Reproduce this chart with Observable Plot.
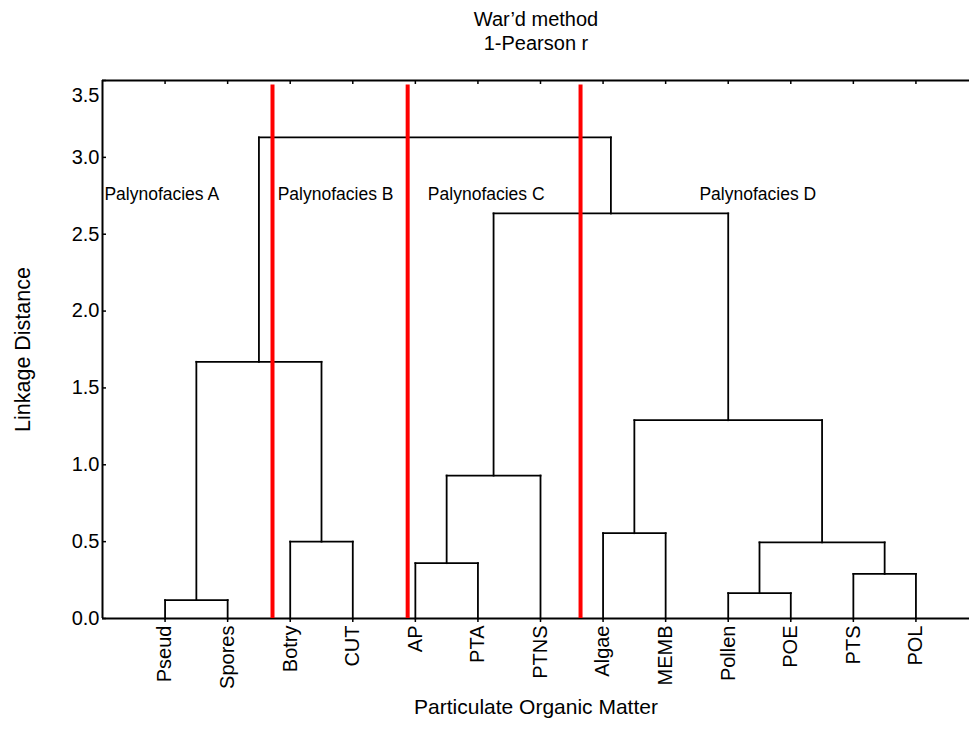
<!DOCTYPE html>
<html>
<head>
<meta charset="utf-8">
<script src="https://cdn.jsdelivr.net/npm/d3@7"></script>
<script src="https://cdn.jsdelivr.net/npm/@observablehq/plot@0.6"></script>
<style>
  body { margin: 0; background: #fff; }
  svg { font-family: "Liberation Sans", Arial, sans-serif; }
</style>
</head>
<body>
<div id="chart"></div>
<script>
// ---- data ----
const titleLines = ["War\u2019d method", "1-Pearson r"];
const xLabel = "Particulate Organic Matter";
const yLabel = "Linkage Distance";
const leaves = ["Pseud","Spores","Botry","CUT","AP","PTA","PTNS","Algae","MEMB","Pollen","POE","PTS","POL"];
// merges: [childA, childB, linkage distance]; leaves are ids 0..12, merges get ids 13..
const merges = [
  [0, 1, 0.12],
  [2, 3, 0.50],
  [4, 5, 0.36],
  [9, 10, 0.165],
  [11, 12, 0.29],
  [15, 6, 0.93],
  [7, 8, 0.555],
  [16, 17, 0.495],
  [19, 20, 1.29],
  [13, 14, 1.67],
  [18, 21, 2.635],
  [22, 23, 3.13]
];
const cutPositions = [2.717, 4.877, 7.64];   // red separators, in leaf-slot units
const cutTop = 3.47;
const facies = ["Palynofacies A", "Palynofacies B", "Palynofacies C", "Palynofacies D"];
const faciesX = [0.03, 2.8, 5.2, 9.54];
const faciesY = 2.76;
const yTicks = [0, 0.5, 1.0, 1.5, 2.0, 2.5, 3.0];
const yTopTick = [3.5];
const yMax = 3.5;
const xMax = leaves.length + 1;

// ---- build dendrogram segments ----
const nodes = leaves.map((name, i) => ({x: i + 1, h: 0}));
const segments = [];
for (const [a, b, h] of merges) {
  const A = nodes[a], B = nodes[b];
  segments.push({x1: A.x, y1: A.h, x2: A.x, y2: h});
  segments.push({x1: B.x, y1: B.h, x2: B.x, y2: h});
  segments.push({x1: A.x, y1: h, x2: B.x, y2: h});
  nodes.push({x: (A.x + B.x) / 2, h});
}
const leafPos = leaves.map((d, i) => i + 1);

const chart = Plot.plot({
  width: 969,
  height: 739,
  marginTop: 80,
  marginBottom: 121,
  marginLeft: 102,
  marginRight: 0,
  style: {fontFamily: "'Liberation Sans', Arial, sans-serif", background: "#fff", color: "#000"},
  x: {domain: [0, xMax], range: [102, 978], axis: null},
  y: {domain: [0, yMax], axis: null},
  marks: [
    // frame lines (left, bottom, top)
    Plot.ruleX([0], {stroke: "#000", strokeWidth: 2}),
    Plot.ruleY([0, yMax], {stroke: "#000", strokeWidth: 2}),
    // inward y ticks
    Plot.axisY(yTicks.concat(yTopTick), {anchor: "left", tickSize: 4, dx: 4, text: null, label: null, strokeWidth: 1.5}),
    // inward top ticks
    Plot.axisX(leafPos, {anchor: "top", tickSize: 3, dy: 3, text: null, label: null, strokeWidth: 1.5}),
    // y tick labels
    Plot.axisY(yTicks, {anchor: "left", tickSize: 0, tickPadding: 3, fontSize: 20, label: null, tickFormat: d3.format(".1f")}),
    Plot.axisY(yTopTick, {anchor: "left", tickSize: 0, tickPadding: 3, fontSize: 20, label: null, tickFormat: d3.format(".1f"), dy: 15}),
    // x axis (bottom)
    Plot.axisX(leafPos, {anchor: "bottom", tickSize: 4, tickPadding: 3, tickRotate: -90, fontSize: 20, label: null,
      tickFormat: d => leaves[d - 1], strokeWidth: 1.5}),
    // dendrogram
    Plot.link(segments, {x1: "x1", y1: "y1", x2: "x2", y2: "y2", stroke: "#000", strokeWidth: 1.8, strokeLinecap: "square"}),
    // red cut lines
    Plot.ruleX(cutPositions, {y1: 0, y2: cutTop, stroke: "#ff0000", strokeWidth: 4}),
    // facies labels
    Plot.text(facies, {x: (d, i) => faciesX[i], y: faciesY, text: d => d, textAnchor: "start", fontSize: 17.5, fill: "#000"}),
    // titles & axis labels
    Plot.text([titleLines[0]], {frameAnchor: "top", dy: -61, lineAnchor: "middle", text: d => d, fontSize: 20, fill: "#000"}),
    Plot.text([titleLines[1]], {frameAnchor: "top", dy: -37, lineAnchor: "middle", text: d => d, fontSize: 20, fill: "#000"}),
    Plot.text([xLabel], {frameAnchor: "bottom", dy: 89, lineAnchor: "middle", text: d => d, fontSize: 21, fill: "#000"}),
    Plot.text([yLabel], {frameAnchor: "left", dx: -79, rotate: -90, textAnchor: "middle", lineAnchor: "middle", text: d => d, fontSize: 21.5, fill: "#000"})
  ]
});
document.getElementById("chart").appendChild(chart);
</script>
</body>
</html>
